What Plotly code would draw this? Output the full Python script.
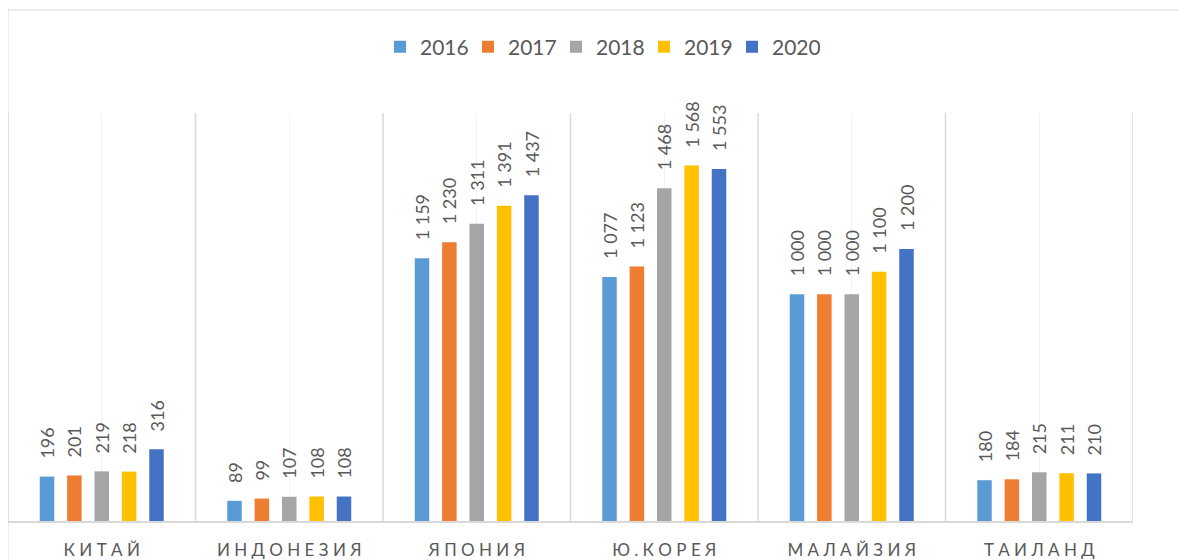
import plotly.graph_objects as go

categories = ["КИТАЙ", "ИНДОНЕЗИЯ", "ЯПОНИЯ", "Ю.КОРЕЯ", "МАЛАЙЗИЯ", "ТАИЛАНД"]
years = ["2016", "2017", "2018", "2019", "2020"]
values_2016 = [196, 89, 1159, 1077, 1000, 180]
values_2017 = [201, 99, 1230, 1123, 1000, 184]
values_2018 = [219, 107, 1311, 1468, 1000, 215]
values_2019 = [218, 108, 1391, 1568, 1100, 211]
values_2020 = [316, 108, 1437, 1553, 1200, 210]
series = [values_2016, values_2017, values_2018, values_2019, values_2020]
colors = ["#5B9BD5", "#ED7D31", "#A5A5A5", "#FFC000", "#4472C4"]

# letter-spaced category labels (Excel style)
tick_text = [" ".join(c) for c in categories]

FONT = "Lato"
TXT = "#595959"

fig = go.Figure()
for name, vals, col in zip(years, series, colors):
    fig.add_trace(go.Bar(
        x=categories, y=vals, name=name,
        marker=dict(color=col, line=dict(width=0)),
        texttemplate="\u00a0\u00a0\u00a0\u200a%{y:,}",
        textposition="outside", textangle=-90,
        textfont=dict(family=FONT, size=18, color=TXT),
        cliponaxis=False, constraintext="none",
    ))

PLOT_TOP = 105
PLOT_H = 408

shapes = []
for i in range(len(categories) + 1):
    shapes.append(dict(type="line", xref="x", yref="paper", x0=i - 0.5, x1=i - 0.5,
                       y0=0, y1=1, line=dict(color="#D9D9D9", width=1.5), layer="below"))
# outer chart border
shapes.append(dict(type="rect", xref="paper", yref="paper", x0=0, x1=1.2, y0=-0.3,
                   y1=1 + (PLOT_TOP - 2) / PLOT_H, line=dict(color="#D9D9D9", width=1),
                   fillcolor="rgba(0,0,0,0)", layer="below"))

fig.update_layout(
    template="none",
    width=1178, height=552,
    margin=dict(l=0, r=53, t=PLOT_TOP, b=39, autoexpand=False),
    paper_bgcolor="white", plot_bgcolor="white",
    font=dict(family=FONT, color=TXT),
    separators=", ",
    barmode="group", bargap=0.27, bargroupgap=0.47,
    showlegend=True,
    legend=dict(orientation="h", x=372 / 1125, xanchor="left",
                y=1 + (PLOT_TOP - 39) / PLOT_H, yanchor="middle",
                entrywidth=43, entrywidthmode="pixels",
                font=dict(family=FONT, size=21, color=TXT), bgcolor="rgba(0,0,0,0)",
                borderwidth=0, traceorder="normal"),
    xaxis=dict(tickmode="array", tickvals=categories, ticktext=tick_text,
               showgrid=True, gridcolor="#F2F2F2", gridwidth=1,
               showline=True, linecolor="#D9D9D9", linewidth=1.5,
               ticks="", ticklabelstandoff=13, automargin=False, zeroline=False,
               tickfont=dict(family=FONT, size=17, color=TXT),
               range=[-0.5, 5.5], fixedrange=True),
    yaxis=dict(range=[0, 1800], visible=False, fixedrange=True, automargin=False),
    shapes=shapes,
)

fig.write_html("out.html")
